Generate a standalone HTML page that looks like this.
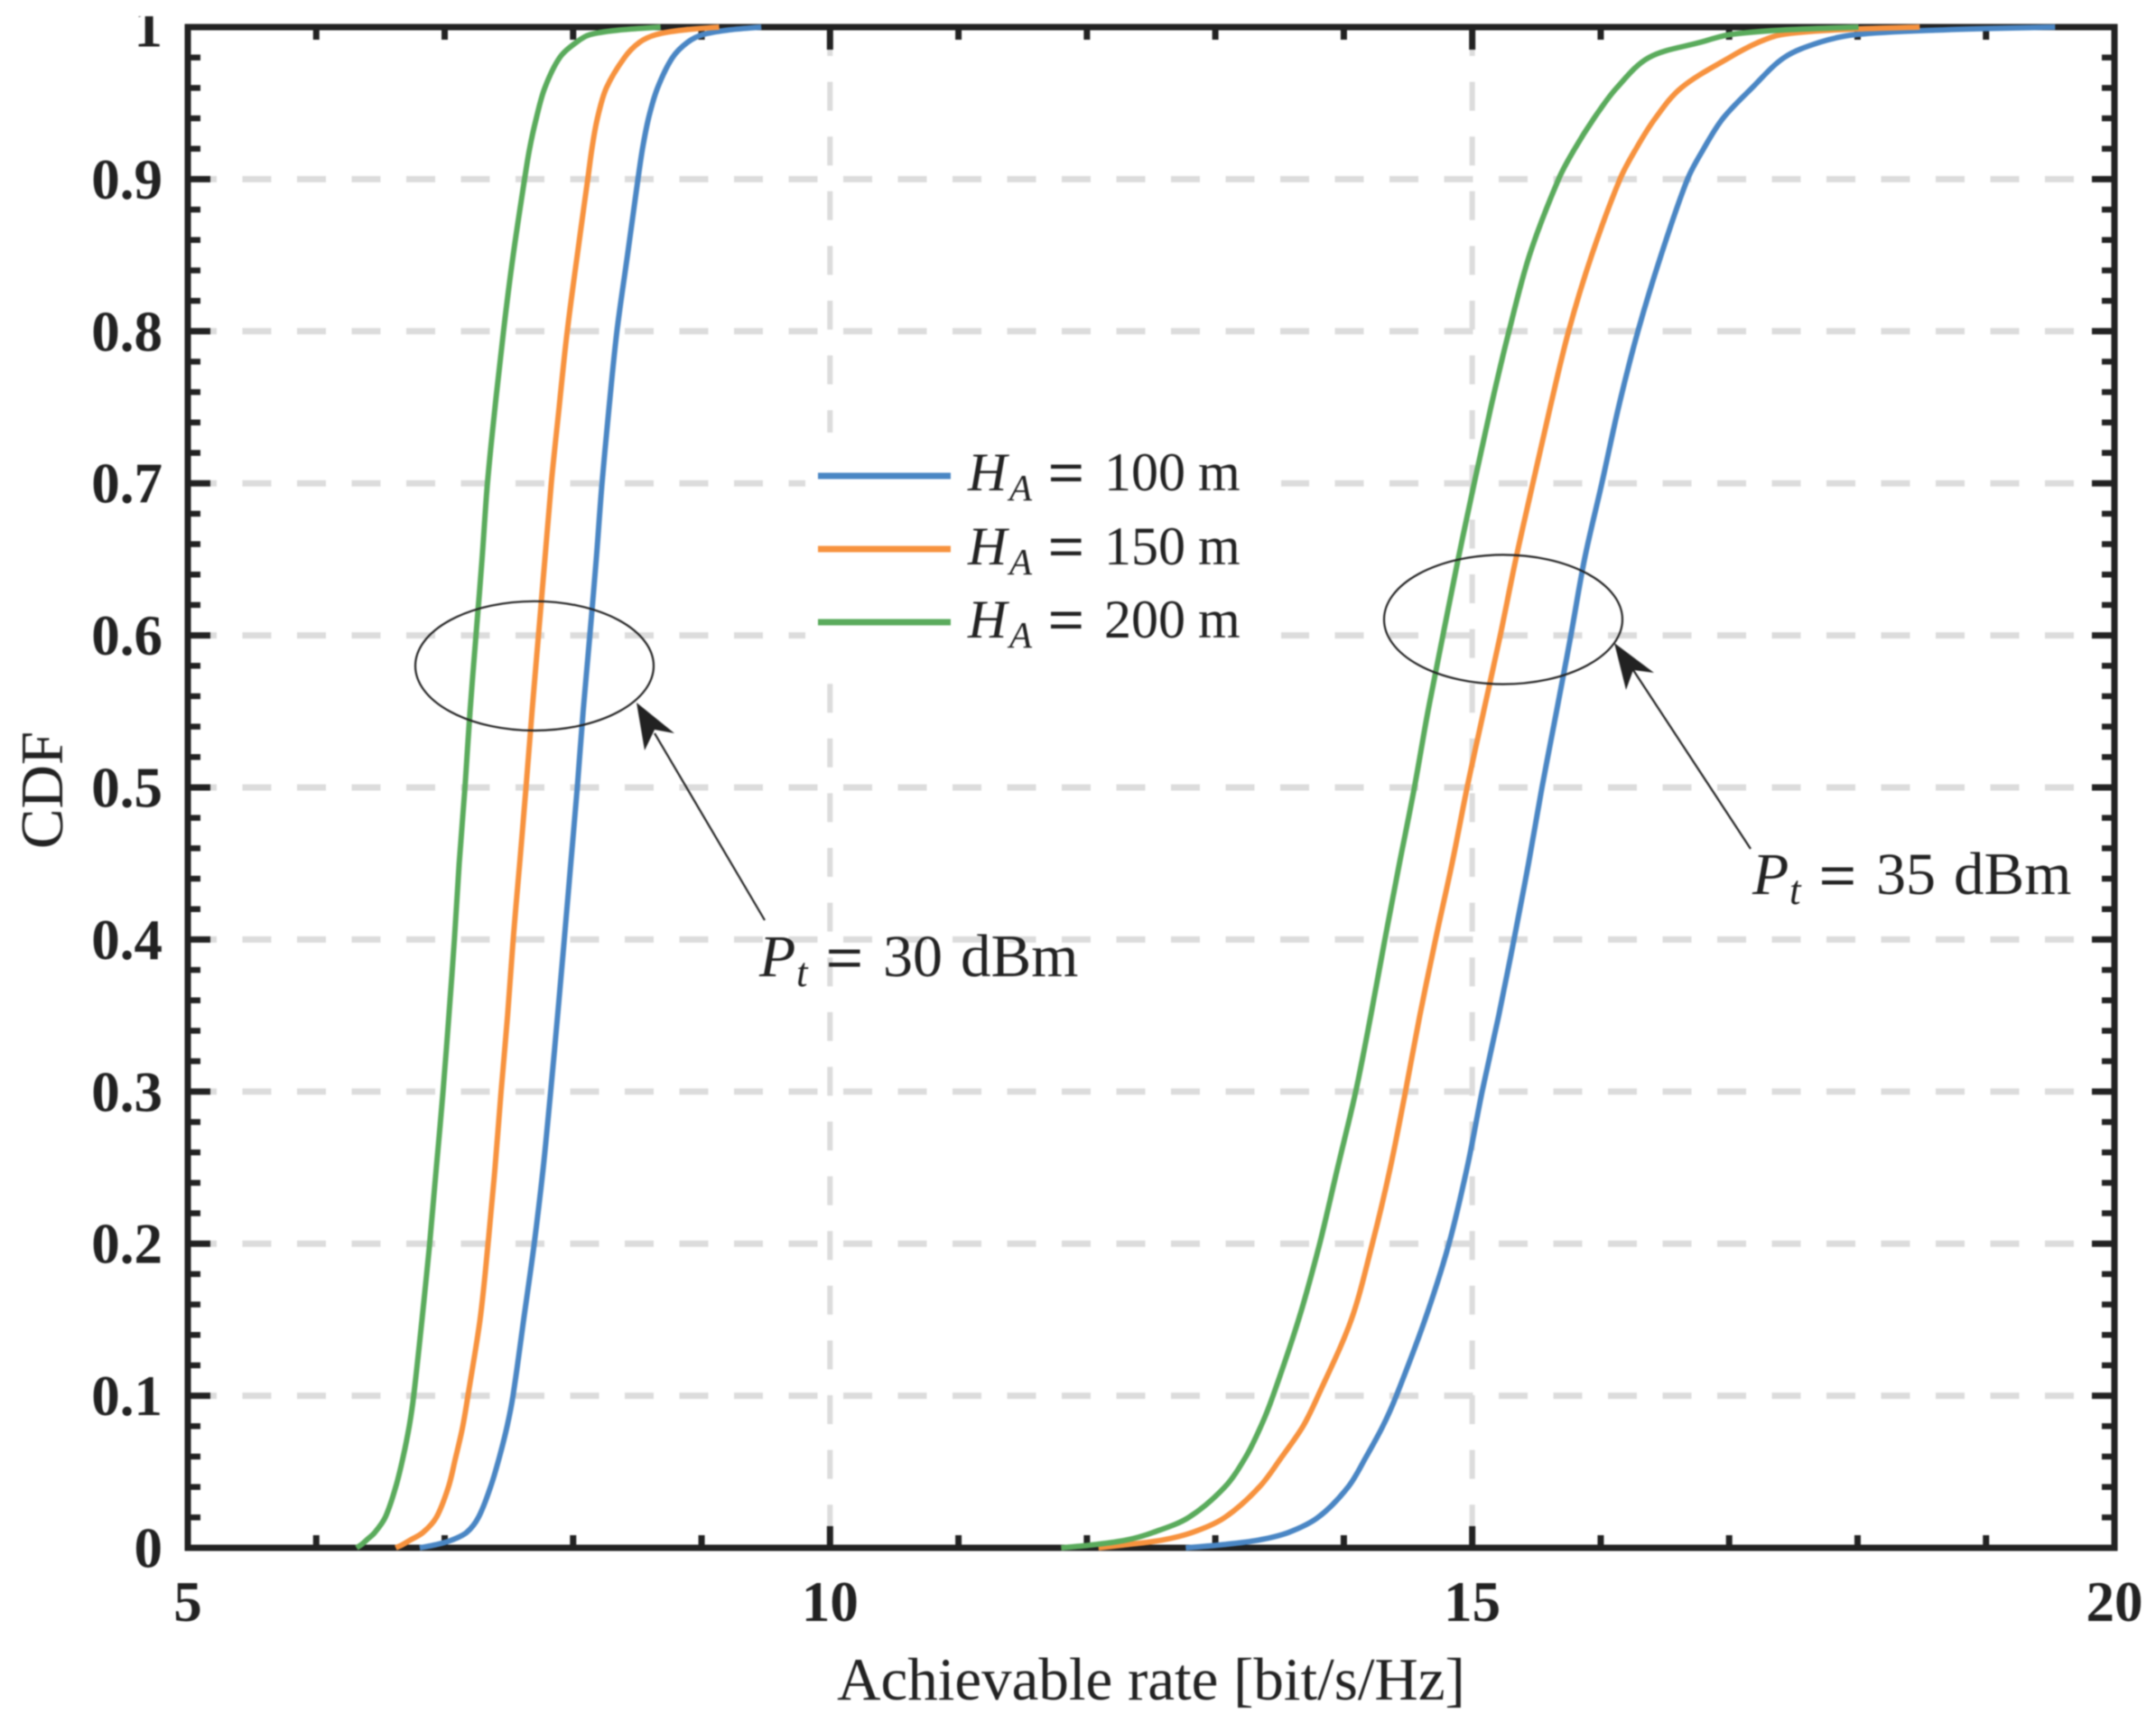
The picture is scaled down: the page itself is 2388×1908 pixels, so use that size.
<!DOCTYPE html>
<html lang="en">
<head>
<meta charset="utf-8">
<title>CDF of achievable rate</title>
<style>
html,body{margin:0;padding:0;background:#fff;}
svg{display:block;filter:blur(0.9px);}
text{font-family:"Liberation Serif",serif;fill:#222;}
.tick{font-weight:bold;font-size:63px;}
.it{font-style:italic;}
.eq{stroke:#222;stroke-width:0.9px;}
</style>
</head>
<body>
<svg id="chart" xmlns="http://www.w3.org/2000/svg" width="2388" height="1908" viewBox="0 0 2388 1908">
  <rect x="0" y="0" width="2388" height="1908" fill="#fff"/>
  <g id="grid"></g>
  <g id="ticks"></g>
  <rect x="208" y="30" width="2134" height="1684" fill="none" stroke="#222" stroke-width="7"/>
  <g id="curves"></g>
  <g id="labels"></g>
  <rect x="100" y="0" width="100" height="18" fill="#fff"/>

  <text x="1275" y="1882" text-anchor="middle" font-size="67">Achievable rate [bit/s/Hz]</text>
  <text transform="translate(69 875) rotate(-90)" text-anchor="middle" font-size="67">CDF</text>

  <g>
    <rect x="892" y="479" width="527" height="258" fill="#fff"/>
    <g>
      <line x1="906" x2="1053" y1="527" y2="527" stroke="#4a86c4" stroke-width="7"/>
      <text font-size="60" y="543"><tspan class="it" x="1072">H</tspan><tspan class="it" x="1118" y="554" font-size="41">A</tspan><tspan class="eq" x="1161" y="547" font-size="70">=</tspan><tspan x="1223" y="543">100</tspan><tspan x="1327" y="543">m</tspan></text>
    </g>
    <g>
      <line x1="906" x2="1053" y1="608" y2="608" stroke="#f7923e" stroke-width="7"/>
      <text font-size="60" y="625"><tspan class="it" x="1072">H</tspan><tspan class="it" x="1118" y="636" font-size="41">A</tspan><tspan class="eq" x="1161" y="629" font-size="70">=</tspan><tspan x="1223" y="625">150</tspan><tspan x="1327" y="625">m</tspan></text>
    </g>
    <g>
      <line x1="906" x2="1053" y1="689" y2="689" stroke="#5aab5c" stroke-width="7"/>
      <text font-size="60" y="706"><tspan class="it" x="1072">H</tspan><tspan class="it" x="1118" y="717" font-size="41">A</tspan><tspan class="eq" x="1161" y="710" font-size="70">=</tspan><tspan x="1223" y="706">200</tspan><tspan x="1327" y="706">m</tspan></text>
    </g>
  </g>

  <g>
    <ellipse cx="592" cy="737.4" rx="132" ry="71.6" fill="none" stroke="#222" stroke-width="2.2"/>
    <line x1="725" y1="812" x2="847" y2="1019" stroke="#222" stroke-width="2.2"/>
    <polygon points="705,778 747,812 725,808 714,831" fill="#222"/>
    <text font-size="66" y="1081"><tspan class="it" x="841">P</tspan><tspan class="it" x="882" y="1092" font-size="45">t</tspan><tspan class="eq" x="915" y="1085" font-size="72">=</tspan><tspan x="978" y="1081">30</tspan><tspan x="1064" y="1081" font-size="67">dBm</tspan></text>
  </g>
  <g>
    <ellipse cx="1665" cy="686" rx="132" ry="71.6" fill="none" stroke="#222" stroke-width="2.2"/>
    <line x1="1809" y1="742" x2="1939" y2="940" stroke="#222" stroke-width="2.2"/>
    <polygon points="1788,712 1832,745 1809,742 1801,764" fill="#222"/>
    <text font-size="66" y="990"><tspan class="it" x="1941">P</tspan><tspan class="it" x="1982" y="1001" font-size="45">t</tspan><tspan class="eq" x="2015" y="994" font-size="72">=</tspan><tspan x="2078" y="990">35</tspan><tspan x="2164" y="990" font-size="67">dBm</tspan></text>
  </g>
</svg>
<script>
const cdfLevels = [0,.002,.005,.01,.02,.04,.06,.08,.1,.15,.2,.25,.3,.35,.4,.45,.5,.55,.6,.65,.7,.75,.8,.85,.9,.92,.94,.96,.98,.99,.995,.998,1];
const rate30dBm100m = [6.806,6.93,7.052,7.169,7.263,7.357,7.427,7.486,7.532,7.615,7.697,7.767,7.825,7.879,7.931,7.982,8.032,8.078,8.13,8.18,8.225,8.28,8.341,8.423,8.505,8.54,8.587,8.657,8.774,8.891,9.009,9.2,9.465];
const rate30dBm150m = [6.619,6.67,6.73,6.83,6.935,7.029,7.087,7.141,7.181,7.275,7.338,7.392,7.439,7.49,7.533,7.584,7.633,7.68,7.73,7.78,7.83,7.891,7.954,8.032,8.114,8.146,8.189,8.259,8.4,8.517,8.645,8.85,9.137];
const rate30dBm200m = [6.314,6.35,6.39,6.455,6.537,6.619,6.677,6.724,6.759,6.823,6.883,6.935,6.987,7.033,7.076,7.113,7.158,7.197,7.244,7.291,7.333,7.392,7.458,7.533,7.622,7.661,7.713,7.779,7.896,8.025,8.13,8.35,8.681];
const rate35dBm100m = [12.769,13.05,13.332,13.566,13.8,14.034,14.175,14.304,14.409,14.632,14.819,14.96,15.077,15.206,15.325,15.438,15.543,15.656,15.768,15.874,16.009,16.139,16.29,16.47,16.676,16.802,16.952,17.178,17.429,17.705,17.982,18.6,19.538];
const rate35dBm150m = [12.09,12.3,12.582,12.816,13.074,13.343,13.519,13.683,13.8,14.058,14.222,14.362,14.48,14.592,14.714,14.843,14.96,15.089,15.218,15.339,15.472,15.607,15.75,15.93,16.15,16.275,16.425,16.626,17.003,17.229,17.404,17.8,18.484];
const rate35dBm200m = [11.8,12.05,12.301,12.511,12.793,13.074,13.238,13.355,13.449,13.648,13.812,13.952,14.093,14.21,14.32,14.433,14.55,14.655,14.772,14.89,15.015,15.145,15.286,15.446,15.672,15.798,15.948,16.124,16.375,16.777,17.003,17.4,18.007];
const xTickValues = [5,10,15,20];
const xMinorValues = [6,7,8,9,11,12,13,14,16,17,18,19];
const yTickValues = [0,0.1,0.2,0.3,0.4,0.5,0.6,0.7,0.8,0.9,1];
const yMinorValues = [.02,.04,.06,.08,.12,.14,.16,.18,.22,.24,.26,.28,.32,.34,.36,.38,.42,.44,.46,.48,.52,.54,.56,.58,.62,.64,.66,.68,.72,.74,.76,.78,.82,.84,.86,.88,.92,.94,.96,.98];
const xGridValues = [10,15];
const yGridValues = [0.1,0.2,0.3,0.4,0.5,0.6,0.7,0.8,0.9];

const NS = 'http://www.w3.org/2000/svg';
const plotLeft = 208, plotRight = 2342, plotTop = 30, plotBottom = 1714;
function xScale(v){ return plotLeft + (v - 5) / 15 * (plotRight - plotLeft); }
function yScale(v){ return plotBottom - v * (plotBottom - plotTop); }
function makeLine(parent, x1, y1, x2, y2, color, width, dash){
  const el = document.createElementNS(NS, 'line');
  el.setAttribute('x1', x1);
  el.setAttribute('y1', y1);
  el.setAttribute('x2', x2);
  el.setAttribute('y2', y2);
  el.setAttribute('stroke', color);
  el.setAttribute('stroke-width', width);
  if (dash) el.setAttribute('stroke-dasharray', dash);
  parent.appendChild(el);
  return el;
}
const gridLayer = document.getElementById('grid');
yGridValues.forEach(function(v){
  const el = makeLine(gridLayer, plotLeft, yScale(v), plotRight, yScale(v), '#dcdcdc', 7, '32 28.5');
  
  
});
xGridValues.forEach(function(v){
  const el = makeLine(gridLayer, xScale(v), plotTop, xScale(v), plotBottom, '#dcdcdc', 6, '32 28.6');
  
  
});
const tickLayer = document.getElementById('ticks');
xTickValues.forEach(function(v){
  const a = makeLine(tickLayer, xScale(v), plotBottom, xScale(v), plotBottom - 24, '#222', 7);
  
  
  const b = makeLine(tickLayer, xScale(v), plotTop, xScale(v), plotTop + 25, '#222', 7);
  
  
});
xMinorValues.forEach(function(v){
  const a = makeLine(tickLayer, xScale(v), plotBottom, xScale(v), plotBottom - 14, '#222', 7);
  
  
  const b = makeLine(tickLayer, xScale(v), plotTop, xScale(v), plotTop + 14, '#222', 7);
  
  
});
yTickValues.forEach(function(v){
  const a = makeLine(tickLayer, plotLeft, yScale(v), plotLeft + 25, yScale(v), '#222', 7);
  
  
  const b = makeLine(tickLayer, plotRight, yScale(v), plotRight - 25, yScale(v), '#222', 7);
  
  
});
yMinorValues.forEach(function(v){
  const a = makeLine(tickLayer, plotLeft, yScale(v), plotLeft + 14, yScale(v), '#222', 6.5);
  
  
  const b = makeLine(tickLayer, plotRight, yScale(v), plotRight - 14, yScale(v), '#222', 6.5);
  
  
});
const labelLayer = document.getElementById('labels');
xTickValues.forEach(function(v){
  const el = document.createElementNS(NS, 'text');
  el.setAttribute('class', 'tick');
  el.setAttribute('x', xScale(v));
  el.setAttribute('y', 1795);
  el.setAttribute('text-anchor', 'middle');
  
  
  el.textContent = String(v);
  labelLayer.appendChild(el);
});
yTickValues.forEach(function(v){
  const el = document.createElementNS(NS, 'text');
  el.setAttribute('class', 'tick');
  el.setAttribute('x', 180);
  el.setAttribute('y', yScale(v) + 21.5);
  el.setAttribute('text-anchor', 'end');
  
  
  el.textContent = String(v);
  labelLayer.appendChild(el);
});
// Smooth path through the sampled points (chord-length Catmull-Rom), clamped to the plot box.
function curvePath(rates){
  const p = rates.map(function(r, i){ return [xScale(r), yScale(cdfLevels[i])]; });
  const dist = function(a, b){ return Math.max(Math.hypot(a[0] - b[0], a[1] - b[1]), 0.01); };
  const tangent = function(i){
    const a = p[Math.max(i - 1, 0)], b = p[Math.min(i + 1, p.length - 1)];
    const d = dist(a, p[i]) + dist(p[i], b);
    return [(b[0] - a[0]) / d, (b[1] - a[1]) / d];
  };
  const clampY = function(y){ return Math.min(plotBottom, Math.max(plotTop, y)); };
  let out = 'M' + p[0][0].toFixed(1) + ' ' + p[0][1].toFixed(1);
  for (let i = 0; i < p.length - 1; i++) {
    const d = dist(p[i], p[i + 1]);
    const t0 = tangent(i), t1 = tangent(i + 1);
    out += ' C' + (p[i][0] + t0[0] * d / 3).toFixed(1) + ' ' + clampY(p[i][1] + t0[1] * d / 3).toFixed(1) +
           ' ' + (p[i + 1][0] - t1[0] * d / 3).toFixed(1) + ' ' + clampY(p[i + 1][1] - t1[1] * d / 3).toFixed(1) +
           ' ' + p[i + 1][0].toFixed(1) + ' ' + p[i + 1][1].toFixed(1);
  }
  return out;
}
function drawCurve(rates, color, name){
  const el = document.createElementNS(NS, 'path');
  el.setAttribute('d', curvePath(rates));
  el.setAttribute('fill', 'none');
  el.setAttribute('stroke', color);
  el.setAttribute('stroke-width', 6);
  el.setAttribute('stroke-linejoin', 'round');
  
  
  document.getElementById('curves').appendChild(el);
}
drawCurve(rate30dBm100m, '#4a86c4', 'curve-100m-30dbm');
drawCurve(rate35dBm100m, '#4a86c4', 'curve-100m-35dbm');
drawCurve(rate30dBm150m, '#f7923e', 'curve-150m-30dbm');
drawCurve(rate35dBm150m, '#f7923e', 'curve-150m-35dbm');
drawCurve(rate30dBm200m, '#5aab5c', 'curve-200m-30dbm');
drawCurve(rate35dBm200m, '#5aab5c', 'curve-200m-35dbm');
</script>
</body>
</html>
